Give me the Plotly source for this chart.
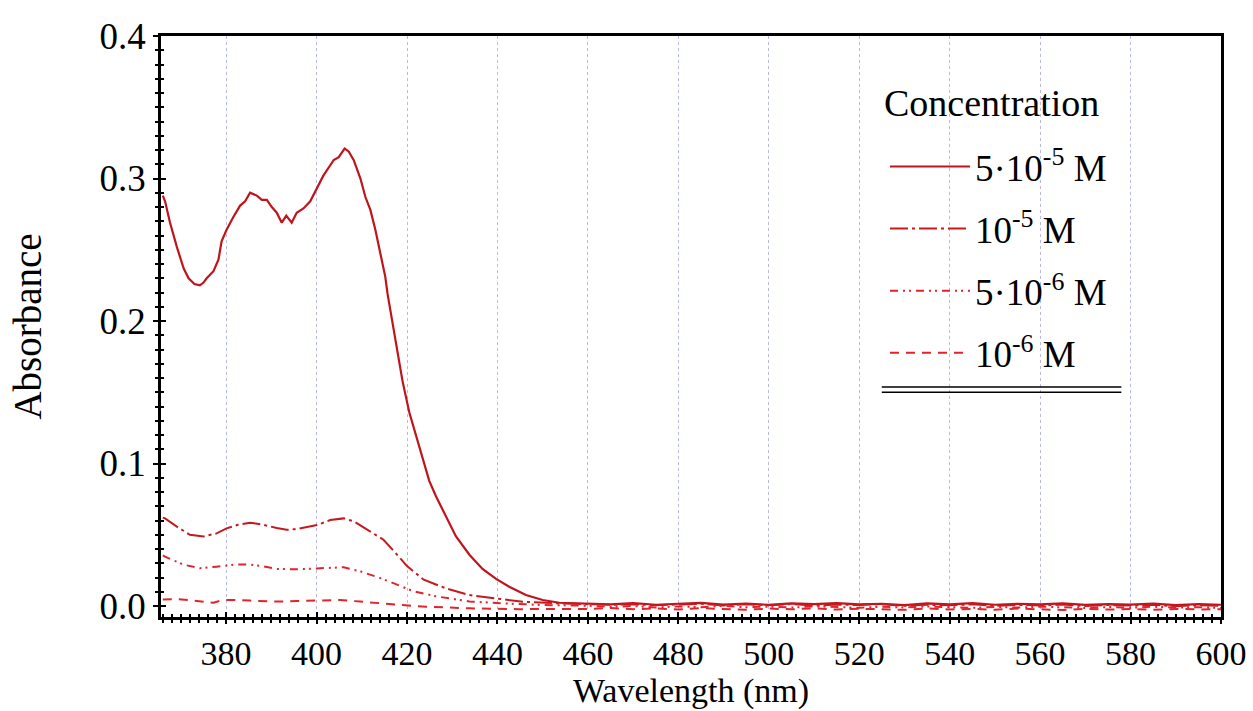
import plotly.graph_objects as go

# ---------------- data ----------------
wl_5e5 = [366.0, 366.5, 367.6, 369.1, 370.6, 371.7, 373.0, 374.2, 375.0, 375.7, 377.2, 378.3,
          379.0, 380.1, 381.6, 383.1, 384.2, 385.3, 386.8, 387.9, 389.0, 390.1, 391.2, 392.3,
          393.3, 394.5, 395.6, 397.1, 398.6, 400.1, 401.5, 403.8, 404.9, 406.2, 407.1, 408.2,
          409.7, 410.8, 411.9, 413.0, 414.1, 415.2, 415.7, 416.5, 417.6, 419.0, 420.5, 422.0,
          423.5, 424.9, 426.4, 428.6, 430.8, 433.8, 436.7, 439.7, 442.6, 446.3, 450.0, 453.7, 457.0]
abs_5e5 = [0.288, 0.284, 0.269, 0.252, 0.237, 0.230, 0.226, 0.225, 0.227, 0.230, 0.235, 0.243,
           0.256, 0.264, 0.273, 0.281, 0.284, 0.290, 0.288, 0.285, 0.285, 0.280, 0.276, 0.269,
           0.274, 0.269, 0.276, 0.279, 0.284, 0.293, 0.302, 0.313, 0.315, 0.321, 0.319, 0.313,
           0.300, 0.287, 0.278, 0.264, 0.247, 0.231, 0.219, 0.204, 0.184, 0.158, 0.136, 0.119,
           0.102, 0.088, 0.077, 0.063, 0.049, 0.036, 0.026, 0.019, 0.0135, 0.0077, 0.0042, 0.0023, 0.0020]

wl_1e5 = [366.0, 366.5, 369.1, 372.0, 375.0, 377.9, 380.1, 382.4, 385.3, 388.3, 391.2, 393.4,
          395.6, 398.0, 400.1, 403.0, 406.0, 408.2, 410.0, 411.9, 414.8, 418.1, 420.0, 423.7,
          428.6, 433.8, 439.7, 445.6, 453.0]
abs_1e5 = [0.062, 0.0615, 0.0557, 0.0500, 0.0488, 0.0510, 0.0545, 0.0568, 0.0585, 0.0570, 0.0547, 0.0535,
           0.0540, 0.0553, 0.0568, 0.0603, 0.0615, 0.0595, 0.0560, 0.0525, 0.0465, 0.0350, 0.0280, 0.0185,
           0.0124, 0.0077, 0.0054, 0.0030, 0.0019]

wl_5e6 = [366.0, 366.5, 370.6, 374.2, 377.9, 382.4, 385.3, 388.3, 391.2, 395.6, 400.1, 403.0,
          406.0, 409.7, 414.1, 417.8, 421.3, 426.4, 433.8, 441.2, 450.0]
abs_5e6 = [0.0355, 0.0346, 0.0290, 0.0265, 0.0276, 0.0292, 0.0290, 0.0278, 0.0260, 0.0258, 0.0264, 0.0270,
           0.0272, 0.0243, 0.0196, 0.0150, 0.0105, 0.0068, 0.0032, 0.0019, 0.0007]

wl_1e6 = [366.0, 369.1, 372.8, 375.5, 377.2, 379.0, 380.9, 385.3, 391.2, 395.6, 400.1, 405.2,
          409.7, 414.8, 419.0, 424.2, 433.8, 444.8, 455.9]
abs_1e6 = [0.0045, 0.0048, 0.0038, 0.0030, 0.0023, 0.0040, 0.0043, 0.0038, 0.0031, 0.0035, 0.0036, 0.0042,
           0.0031, 0.0015, 0.0007, -0.0005, -0.0016, -0.0022, -0.0022]

# baseline region (460-600 nm), noisy values near zero
wl_tail = [460, 465, 470, 475, 480, 485, 490, 495, 500, 505, 510, 515, 520, 525, 530,
           535, 540, 545, 550, 555, 560, 565, 570, 575, 580, 585, 590, 595, 600]
tail_5e5 = [0.0018, 0.0012, 0.0020, 0.0009, 0.0016, 0.0022, 0.0010, 0.0017, 0.0008, 0.0019, 0.0013, 0.0021,
            0.0011, 0.0016, 0.0007, 0.0018, 0.0012, 0.0020, 0.0009, 0.0015, 0.0011, 0.0019, 0.0008, 0.0014,
            0.0010, 0.0017, 0.0007, 0.0013, 0.0009]
tail_1e5 = [0.0015, 0.0008, 0.0013, 0.0005, 0.0011, 0.0016, 0.0004, 0.0012, 0.0006, 0.0014, 0.0003, 0.0010,
            0.0007, 0.0013, 0.0002, 0.0009, 0.0005, 0.0012, 0.0001, 0.0008, 0.0004, 0.0010, 0.0000, 0.0007,
            0.0003, 0.0009, -0.0001, 0.0006, 0.0002]
tail_5e6 = [0.0002, -0.0006, 0.0000, -0.0010, -0.0003, -0.0008, 0.0001, -0.0009, -0.0004, -0.0011, -0.0002,
            -0.0007, -0.0012, -0.0005, -0.0010, -0.0003, -0.0009, -0.0013, -0.0006, -0.0011, -0.0004, -0.0010,
            -0.0014, -0.0007, -0.0012, -0.0005, -0.0011, -0.0008, -0.0013]
tail_1e6 = [-0.0020, -0.0014, -0.0022, -0.0017, -0.0024, -0.0015, -0.0021, -0.0026, -0.0018, -0.0023, -0.0016,
            -0.0025, -0.0019, -0.0022, -0.0027, -0.0017, -0.0024, -0.0020, -0.0026, -0.0018, -0.0023, -0.0028,
            -0.0019, -0.0025, -0.0021, -0.0027, -0.0020, -0.0024, -0.0022]

series_names = ["5·10<sup>-5</sup> M", "10<sup>-5</sup> M", "5·10<sup>-6</sup> M", "10<sup>-6</sup> M"]
legend_title = "Concentration"
x_title = "Wavelength (nm)"
y_title = "Absorbance"
x_major_ticks = [380, 400, 420, 440, 460, 480, 500, 520, 540, 560, 580, 600]
y_major_ticks = [0.0, 0.1, 0.2, 0.3, 0.4]

# ---------------- styling ----------------
FONT = "Liberation Serif"
colors = ["#c0141c", "#c41a1f", "#e3222b", "#e3222b"]
dashes = ["solid", "18px,4px,3px,4px", "8px,5px,2px,4px,2px,5px", "9px,7px"]
widths = [2.2, 2.0, 2.0, 2.0]

xs = [wl_5e5 + wl_tail, wl_1e5 + wl_tail, wl_5e6 + wl_tail, wl_1e6 + wl_tail]
ys = [abs_5e5 + tail_5e5, abs_1e5 + tail_1e5, abs_5e6 + tail_5e6, abs_1e6 + tail_1e6]

fig = go.Figure()
for i in range(4):
    fig.add_trace(go.Scatter(
        x=xs[i], y=ys[i], mode="lines", name=series_names[i],
        line=dict(color=colors[i], width=widths[i], dash=dashes[i]),
        legendgroup=f"g{i}",
    ))

# dummy trace so the overlay axes (inside half of crossing ticks) are drawn
fig.add_trace(go.Scatter(x=[None], y=[None], xaxis="x2", yaxis="y2",
                         showlegend=False, hoverinfo="skip"))

XR = [365.6, 600]
YR = [-0.0077, 0.4]

fig.update_layout(
    width=1253, height=711,
    margin=dict(l=161, r=32, t=36, b=94, autoexpand=False),
    paper_bgcolor="white", plot_bgcolor="white",
    font=dict(family=FONT, color="black", size=37),
    showlegend=True,
    legend=dict(
        font=dict(family=FONT, size=37, color="black"),
        x=0.683, y=0.828, xanchor="left", yanchor="top",
        bgcolor="rgba(0,0,0,0)", borderwidth=0,
        tracegroupgap=11, itemwidth=80,
    ),
    annotations=[
        dict(text=legend_title, xref="paper", yref="paper", x=0.68, y=0.845,
             xanchor="left", yanchor="bottom", showarrow=False,
             font=dict(family=FONT, size=38, color="black")),
        dict(text=x_title, xref="paper", yref="paper", x=0.5, y=-0.093,
             xanchor="center", yanchor="top", showarrow=False, borderpad=0,
             font=dict(family=FONT, size=34, color="black")),
    ],
    xaxis=dict(
        range=XR, tickvals=x_major_ticks, ticks="outside", ticklen=4, tickwidth=2, tickcolor="black",
        showline=True, linewidth=2.5, linecolor="black", mirror=True, automargin=False,
        showgrid=True, gridcolor="#b9b9e8", griddash="dot", gridwidth=1, zeroline=False,
        minor=dict(tick0=380, dtick=2, ticks="outside", ticklen=3, tickwidth=1.5, tickcolor="black", showgrid=False),
        tickfont=dict(family=FONT, size=34, color="black"),
    ),
    yaxis=dict(
        range=YR, tickvals=y_major_ticks, tickformat=".1f", ticks="outside", ticklen=5, tickwidth=2,
        tickcolor="black", showline=True, linewidth=2.5, linecolor="black", mirror=True, automargin=False,
        showgrid=False, zeroline=False,
        minor=dict(tick0=0, dtick=0.01, ticks="outside", ticklen=3, tickwidth=1.5, tickcolor="black", showgrid=False),
        tickfont=dict(family=FONT, size=37, color="black"),
        title=dict(text=y_title, font=dict(family=FONT, size=39, color="black"), standoff=46),
    ),
    xaxis2=dict(
        range=XR, overlaying="x", anchor="y2", side="bottom", tickvals=x_major_ticks, ticks="inside",
        ticklen=5, tickwidth=2, tickcolor="black", showticklabels=False, showgrid=False,
        showline=False, zeroline=False, automargin=False,
        minor=dict(tick0=380, dtick=2, ticks="inside", ticklen=3, tickwidth=1.5, tickcolor="black", showgrid=False),
    ),
    yaxis2=dict(
        range=YR, overlaying="y", anchor="x2", side="left", tickvals=y_major_ticks, ticks="inside",
        ticklen=5, tickwidth=2, tickcolor="black", showticklabels=False, showgrid=False,
        showline=False, zeroline=False, automargin=False,
        minor=dict(tick0=0, dtick=0.01, ticks="inside", ticklen=3, tickwidth=1.5, tickcolor="black", showgrid=False),
    ),
    shapes=[
        dict(type="line", xref="paper", yref="paper", x0=0.68, x1=0.906, y0=0.396, y1=0.396,
             line=dict(color="black", width=1.5)),
        dict(type="line", xref="paper", yref="paper", x0=0.68, x1=0.906, y0=0.387, y1=0.387,
             line=dict(color="black", width=1.5)),
    ],
)

fig.write_html("out.html")
